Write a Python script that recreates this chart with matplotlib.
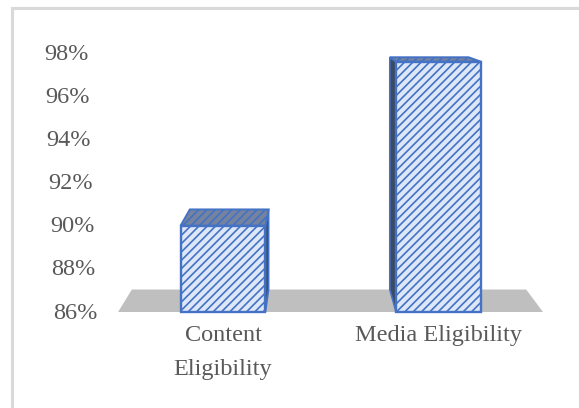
import numpy as np
import matplotlib.pyplot as plt
from matplotlib.patches import Polygon
from matplotlib.lines import Line2D

# Data
categories = ['Content\nEligibility', 'Media Eligibility']
values = [90.0, 97.6]  # percent
yticks = [86, 88, 90, 92, 94, 96, 98]
base = 86

plt.rcParams['hatch.linewidth'] = 1.2
plt.rcParams['font.family'] = ['Liberation Serif', 'DejaVu Serif']

fig = plt.figure(figsize=(5.79, 4.08), dpi=100)
ax = fig.add_axes([0, 0, 1, 1])
ax.set_xlim(-1.035, 1.652)
ax.set_ylim(81.55, 100.46)
ax.axis('off')

# one-point perspective used for the fake 3-D depth
vp = np.array([0.40, 100.46])
k = 0.072

def back(x, y):
    return (x + k * (vp[0] - x), y + k * (vp[1] - y))

blue = '#4472c4'
txt = '#595959'

# floor
fl, fr = -0.487, 1.485
ax.add_patch(Polygon([(fl, base), (fr, base), back(fr, base), back(fl, base)],
                     closed=True, fc='#bfbfbf', ec='none', zorder=1))

# front faces
x = np.arange(len(values))
w = 0.394
heights = np.array(values) - base
ax.bar(x, heights, width=w, bottom=base, color='#dde7f7', edgecolor=blue,
       hatch='////', lw=1.7, zorder=4)

# top and side faces
for xi, v in zip(x, values):
    x0, x1 = xi - w / 2, xi + w / 2
    top = [(x0, v), (x1, v), back(x1, v), back(x0, v)]
    ax.add_patch(Polygon(top, closed=True, fc='#75839f', ec=blue,
                         hatch='////', lw=1.4, zorder=3))
    xs = x1 if x1 < vp[0] else x0
    side = [(xs, base), (xs, v), back(xs, v), back(xs, base)]
    ax.add_patch(Polygon(side, closed=True, fc='#3e4a62', ec=blue,
                         lw=1.2, zorder=2))

# value axis labels (slanted with the perspective)
for t in yticks:
    ax.text(-0.626 + (98 - t) * 0.0035, t - 0.05, f'{t}%', ha='right',
            va='center', fontsize=17.5, color=txt)

# category labels
for xi, c in zip(x, categories):
    ax.text(xi, 85.4, c, ha='center', va='top', fontsize=17.5, color=txt,
            linespacing=1.8)

# chart area frame
fx, fy = 12 / 579, 1 - 8 / 408
fig.add_artist(Line2D([fx, fx], [0, fy], transform=fig.transFigure,
                      color='#d9d9d9', lw=2.2))
fig.add_artist(Line2D([fx, 1], [fy, fy], transform=fig.transFigure,
                      color='#d9d9d9', lw=2.2))

fig.savefig('out.png', dpi=100)
